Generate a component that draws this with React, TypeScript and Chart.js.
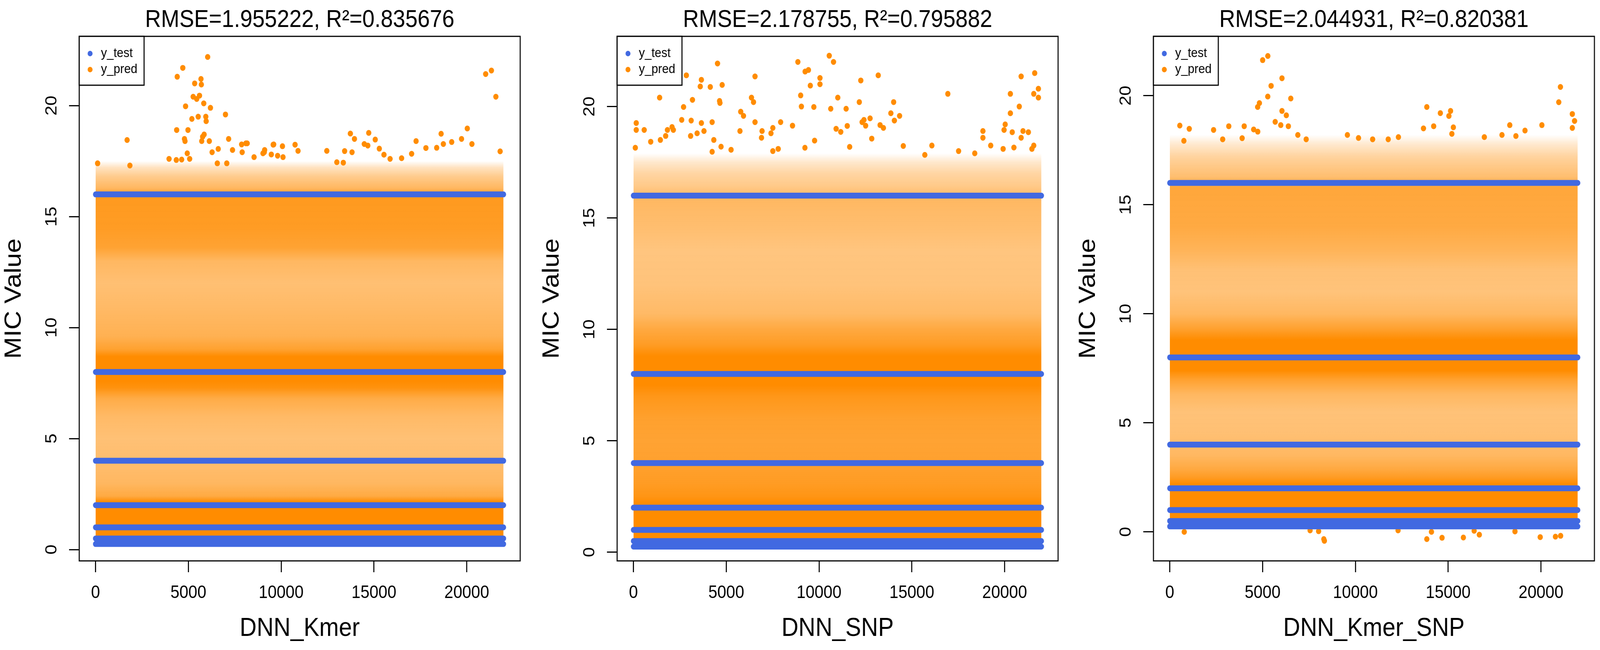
import React, { useEffect, useRef } from 'react';
import { Chart, registerables } from 'chart.js';

Chart.register(...registerables);

const FONT = "'Liberation Sans', Arial, Helvetica, sans-serif";
Chart.defaults.font.family = FONT;

const BLUE = 'rgb(65,105,225)';
const ORANGE_RGB = '255,140,0';
const ORANGE = `rgb(${ORANGE_RGB})`;

// ---------- data ----------
const MODELS = ['DNN_Kmer', 'DNN_SNP', 'DNN_Kmer_SNP'];
const RMSE = ['1.955222', '2.178755', '2.044931'];
const R2 = ['0.835676', '0.795882', '0.820381'];

const X_TICKS = [0, 5000, 10000, 15000, 20000];
const Y_TICKS = [0, 5, 10, 15, 20];
const X_RANGE = [-880, 22880];
const Y_RANGE_KMER = [-0.51, 23.12];
const Y_RANGE_SNP = [-0.39, 23.15];
const Y_RANGE_KMER_SNP = [-1.33, 22.72];

// sample index span of the test set
const SAMPLE_SPAN = [1, 21980];

// y_test takes only these MIC values
const TEST_LEVELS = [0.25, 0.5, 1, 2, 4, 8, 16];

// y_pred: share of the plot covered by predicted points, read per MIC level
const DENS_Y_KMER = [0.45, 0.6, 2.15, 2.4, 3.0, 4.0, 5.0, 6.0, 6.8, 7.3, 7.6, 8.7, 9.0, 9.6, 10.9, 12.0, 13.0, 13.6, 14.5, 15.9, 16.3, 16.8, 17.2, 17.5];
const DENS_KMER = [0, 1, 1, 0.74, 0.62, 0.57, 0.54, 0.6, 0.72, 0.95, 1, 1, 0.82, 0.68, 0.6, 0.55, 0.62, 0.8, 0.86, 0.88, 0.62, 0.45, 0.25, 0];

const DENS_Y_SNP = [0.45, 0.6, 2.2, 2.5, 3.1, 4.0, 5.0, 6.0, 7.0, 7.5, 8.8, 9.3, 10.0, 10.7, 12.0, 13.5, 14.5, 15.9, 16.4, 17.0, 17.5, 17.9];
const DENS_SNP = [0, 1, 1, 0.92, 0.86, 0.82, 0.8, 0.82, 0.9, 1, 1, 0.86, 0.75, 0.6, 0.52, 0.5, 0.56, 0.62, 0.47, 0.36, 0.2, 0];

const DENS_Y_KMER_SNP = [0.45, 0.6, 2.2, 2.5, 2.9, 3.5, 4.5, 5.5, 6.3, 7.0, 7.4, 8.8, 9.3, 10.0, 11.0, 12.0, 12.9, 14.0, 15.8, 16.3, 17.2, 17.8, 18.2];
const DENS_KMER_SNP = [0, 1, 1, 0.86, 0.74, 0.62, 0.55, 0.53, 0.62, 0.82, 1, 1, 0.82, 0.62, 0.52, 0.54, 0.65, 0.74, 0.77, 0.56, 0.38, 0.18, 0];

// y_pred: individually visible points (sample index, predicted MIC)
const PRED_KMER = [
  [6040, 22.19], [4700, 21.7], [4400, 21.3], [5340, 21.0], [5680, 21.2], [5700, 20.95], [5260, 20.4], [5600, 20.45],
  [5450, 20.3], [5830, 20.1], [6190, 19.9], [4850, 19.97], [7000, 19.6], [5530, 19.5], [5190, 19.4], [5940, 19.5],
  [5960, 19.3], [4370, 18.9], [4980, 18.9], [5850, 18.7], [5770, 18.6], [4790, 18.5], [4820, 18.4], [5720, 18.4],
  [6130, 18.4], [7170, 18.5], [1700, 18.45], [6610, 18.05], [6280, 17.9], [7380, 18.0], [7870, 18.25], [8100, 18.3],
  [9600, 18.25], [7900, 17.9], [110, 17.4], [1850, 17.3], [3960, 17.6], [4350, 17.55], [4640, 17.57], [5070, 17.6],
  [4940, 17.85], [6560, 17.4], [7070, 17.4], [8540, 17.68], [9020, 17.85], [9110, 18.0],
  [21020, 21.42], [21330, 21.58], [21570, 20.4], [20030, 18.97], [18620, 18.73], [19720, 18.5], [20280, 18.27],
  [19190, 18.36], [18740, 18.27], [18380, 18.1], [17270, 18.4], [17800, 18.09], [17030, 17.83], [16490, 17.63],
  [21800, 17.94], [14720, 18.77], [15070, 18.47], [13730, 18.74], [13950, 18.5], [14480, 18.27], [14670, 18.2],
  [15290, 18.06], [13420, 17.95], [13820, 17.9], [12460, 17.96], [15870, 17.6], [15540, 17.79], [9570, 18.24],
  [10070, 18.17], [10750, 18.24], [10910, 17.96], [8170, 18.3], [9090, 17.9], [9470, 17.8], [9810, 17.74],
  [10100, 17.68], [13000, 17.45], [13350, 17.43],
];

const PRED_SNP = [
  [10550, 22.28], [10780, 22.0], [8860, 22.0], [4530, 21.93], [9430, 21.64], [9250, 21.57], [13190, 21.4], [6550, 21.35],
  [2850, 21.4], [20890, 21.35], [21620, 21.5], [3660, 21.2], [3600, 20.9], [4140, 20.88], [4780, 20.97], [10050, 21.28],
  [10050, 21.0], [9530, 20.94], [12250, 21.17], [21820, 20.8], [16940, 20.57], [21570, 20.57], [21820, 20.4], [1410, 20.4],
  [2700, 19.98], [3180, 20.3], [4640, 20.25], [4660, 20.16], [6360, 20.4], [6470, 20.2], [9010, 20.5], [9050, 20.0],
  [11010, 20.4], [12170, 20.2], [14020, 20.2], [20310, 20.57], [20790, 20.0], [9720, 19.98], [10630, 19.9], [11460, 19.9],
  [5780, 19.77], [5930, 19.58], [13870, 19.7], [14340, 19.58], [14060, 19.37], [20310, 19.7], [150, 19.26], [580, 18.95],
  [150, 18.95], [2600, 19.4], [3110, 19.37], [3660, 19.26], [4240, 19.3], [6550, 19.3], [7930, 19.3], [8570, 19.14],
  [12320, 19.3], [12510, 19.14], [12420, 19.4], [12750, 19.47], [13290, 19.17], [13470, 19.04], [20030, 19.2], [2080, 19.08],
  [1830, 18.95], [1450, 18.5], [18830, 18.9], [20990, 18.9], [21280, 18.85], [100, 18.15], [930, 18.42], [1735, 18.68],
  [2150, 18.95], [3080, 18.68], [3430, 18.8], [3800, 18.9], [4330, 18.5], [4240, 17.97], [4720, 18.2], [5260, 18.06],
  [5740, 18.9], [6930, 18.9], [7510, 19.04], [7410, 18.8], [6900, 18.6], [7510, 18.0], [7800, 18.1], [9760, 18.47],
  [9240, 18.15], [10920, 19.0], [11170, 18.86], [11650, 18.19], [11520, 19.13], [12840, 18.56], [14540, 18.23],
  [16080, 18.25], [15700, 17.83], [17520, 18.0], [18830, 18.6], [19250, 18.25], [19970, 18.95], [20410, 18.85],
  [20890, 18.6], [21570, 18.25], [21470, 18.1], [20500, 18.16], [19920, 18.1], [18390, 17.9],
];

const PRED_KMER_SNP = [
  [5005, 21.63], [5283, 21.82], [6045, 20.8], [5460, 20.45], [5280, 19.96], [6520, 19.87], [4830, 19.66], [4735, 19.48],
  [6045, 19.3], [6280, 19.1], [5680, 18.8], [5980, 18.65], [6390, 18.6], [21050, 20.4], [20960, 19.7], [13850, 19.48],
  [14580, 19.2], [15130, 19.3], [15040, 19.07], [21690, 19.16], [21810, 18.84], [21690, 18.52], [540, 18.63], [1050, 18.48],
  [760, 17.93], [2360, 18.43], [3180, 18.6], [4010, 18.6], [4520, 18.45], [4740, 18.35], [13670, 18.5], [14220, 18.6],
  [15280, 18.55], [15200, 18.25], [18320, 18.65], [19140, 18.4], [20050, 18.65], [9570, 18.2], [10170, 18.06],
  [10930, 18.0], [11770, 18.0], [12320, 18.1], [16950, 18.1], [17900, 18.2], [18650, 18.15], [6900, 18.2], [7350, 18.0],
  [2850, 18.0], [3900, 18.05],
  [8330, -0.41], [8300, -0.33], [780, 0.0], [13850, -0.33], [14670, -0.27], [15820, -0.26], [16680, -0.13],
  [19960, -0.24], [20780, -0.22], [21060, -0.18], [8020, 0.03], [12300, 0.07], [7560, 0.07], [14100, 0.0],
  [16400, 0.05], [18600, 0.02],
];

const PANELS = [
  { yRange: Y_RANGE_KMER, densY: DENS_Y_KMER, dens: DENS_KMER, pred: PRED_KMER },
  { yRange: Y_RANGE_SNP, densY: DENS_Y_SNP, dens: DENS_SNP, pred: PRED_SNP },
  { yRange: Y_RANGE_KMER_SNP, densY: DENS_Y_KMER_SNP, dens: DENS_KMER_SNP, pred: PRED_KMER_SNP },
];

// ---------- layout (in reference pixels) ----------
const PAGE_W = 4564;
const PAGE_H = 1663;
const CANVAS_W = 1500;
const PANEL_LEFT = [0, 1534, 3064];
const Y_AXIS_W = 226;
const X_AXIS_H = 228;
const RIGHT_PAD = 16;
const POINT_R = 7.5;

function densityFill(ys: number[], cov: number[]) {
  return (ctx: any) => {
    const chart = ctx.chart;
    const sc = chart && chart.scales ? chart.scales.y : null;
    if (!chart || !chart.chartArea || !sc) return `rgba(${ORANGE_RGB},0.5)`;
    const lo = ys[0];
    const hi = ys[ys.length - 1];
    const g = chart.ctx.createLinearGradient(0, sc.getPixelForValue(lo), 0, sc.getPixelForValue(hi));
    ys.forEach((v, i) => g.addColorStop((v - lo) / (hi - lo), `rgba(${ORANGE_RGB},${cov[i]})`));
    return g;
  };
}

// R-style plot frame and boxed legend
const frameLegendPlugin = {
  id: 'frameLegend',
  afterDraw(chart: any) {
    const { ctx, chartArea: a } = chart;
    ctx.save();
    ctx.strokeStyle = '#000';
    ctx.lineWidth = 3;
    ctx.strokeRect(a.left, a.top, a.right - a.left, a.bottom - a.top);
    const items: { label: string; color: string }[] = [];
    chart.data.datasets.forEach((d: any) => {
      if (d.legendColor && !items.find((it) => it.label === d.label)) items.push({ label: d.label, color: d.legendColor });
    });
    const w = 185;
    const h = 125;
    ctx.fillStyle = '#fff';
    ctx.fillRect(a.left, a.top, w, h);
    ctx.strokeRect(a.left, a.top, w, h);
    ctx.font = `34px ${FONT}`;
    ctx.textBaseline = 'middle';
    ctx.textAlign = 'left';
    items.forEach((it, i) => {
      const cy = a.top + 44 + i * 41;
      ctx.fillStyle = it.color;
      ctx.beginPath();
      ctx.arc(a.left + 31, cy, 7, 0, Math.PI * 2);
      ctx.fill();
      ctx.fillStyle = '#000';
      ctx.fillText(it.label, a.left + 62, cy);
    });
    ctx.restore();
  },
};

function Panel({ index, sx }: { index: number; sx: number }) {
  const ref = useRef<HTMLCanvasElement | null>(null);
  useEffect(() => {
    const p = PANELS[index];
    const canvas = ref.current;
    if (!canvas) return;
    const testLines: any[] = [];
    TEST_LEVELS.forEach((lv) => {
      testLines.push({ x: SAMPLE_SPAN[0], y: lv }, { x: SAMPLE_SPAN[1], y: lv }, { x: SAMPLE_SPAN[1], y: null });
    });
    const densTop = p.densY[p.densY.length - 1];
    const densBottom = p.densY[0];
    const chart = new Chart(canvas, {
      type: 'scatter',
      data: {
        datasets: [
          {
            label: 'y_test', legendColor: BLUE, data: testLines, showLine: true, spanGaps: false,
            borderColor: BLUE, borderWidth: POINT_R * 2, borderCapStyle: 'round', pointRadius: 0, fill: false, order: 0,
          } as any,
          {
            label: 'y_pred', legendColor: ORANGE, data: p.pred.map(([x, y]) => ({ x, y })), showLine: false,
            pointRadius: POINT_R, pointBorderWidth: 0, pointBackgroundColor: ORANGE, pointBorderColor: ORANGE, order: 1,
          } as any,
          {
            label: 'y_pred',
            data: [{ x: SAMPLE_SPAN[0], y: densTop }, { x: SAMPLE_SPAN[1], y: densTop }],
            showLine: true, borderWidth: 0, borderColor: 'rgba(0,0,0,0)', pointRadius: 0,
            fill: { value: densBottom }, backgroundColor: densityFill(p.densY, p.dens), order: 2,
          } as any,
        ],
      },
      options: {
        animation: false,
        responsive: false,
        devicePixelRatio: 1,
        events: [],
        layout: { padding: { left: 0, right: RIGHT_PAD, top: 0, bottom: 0 } },
        plugins: {
          legend: { display: false },
          tooltip: { enabled: false },
          title: {
            display: true, fullSize: false,
            text: `RMSE=${RMSE[index]}, R\u00B2=${R2[index]}`,
            color: '#000',
            font: { size: 63, weight: 'normal', family: FONT, lineHeight: 1.1 },
            padding: { top: 17, bottom: 6.7 },
          },
        },
        scales: {
          x: {
            type: 'linear', position: 'bottom', min: X_RANGE[0], max: X_RANGE[1],
            afterBuildTicks: (s: any) => { s.ticks = X_TICKS.map((v) => ({ value: v })); },
            afterFit: (s: any) => { s.height = X_AXIS_H; },
            grid: { display: true, drawOnChartArea: false, drawTicks: true, tickLength: 29, lineWidth: 3, color: '#000', tickColor: '#000' },
            border: { display: false },
            ticks: { color: '#000', font: { size: 46, family: FONT }, padding: 26, autoSkip: false, maxRotation: 0, minRotation: 0, callback: (v: any) => String(v) },
            title: { display: true, text: MODELS[index], color: '#000', font: { size: 67, family: FONT, lineHeight: 1.1 }, padding: { top: 0, bottom: 18 } },
          },
          y: {
            type: 'linear', position: 'left', min: p.yRange[0], max: p.yRange[1],
            afterBuildTicks: (s: any) => { s.ticks = Y_TICKS.map((v) => ({ value: v })); },
            afterFit: (s: any) => { s.width = Y_AXIS_W; },
            grid: { display: true, drawOnChartArea: false, drawTicks: true, tickLength: 29, lineWidth: 3, color: '#000', tickColor: '#000' },
            border: { display: false },
            ticks: { color: '#000', font: { size: 46, family: FONT }, padding: 23, minRotation: 90, maxRotation: 90, crossAlign: 'center', autoSkip: false, callback: (v: any) => String(v) },
            title: { display: true, text: 'MIC Value', color: '#000', font: { size: 67, family: FONT, lineHeight: 1.1 }, padding: { top: 4, bottom: 0 } },
          },
        },
      } as any,
      plugins: [frameLegendPlugin],
    });
    return () => chart.destroy();
  }, [index]);
  return (
    <canvas
      ref={ref}
      width={CANVAS_W}
      height={PAGE_H}
      style={{
        position: 'absolute',
        left: PANEL_LEFT[index] * sx,
        top: 0,
        width: CANVAS_W * sx,
        height: PAGE_H,
        display: 'block',
      }}
    />
  );
}

export default function App() {
  // the browser window may be narrower than the 4564 px reference; map the reference width onto it
  const vw = typeof window !== 'undefined' && window.innerWidth ? window.innerWidth : PAGE_W;
  const sx = Math.min(1, vw / PAGE_W);
  return (
    <div
      style={{
        position: 'absolute',
        left: 0,
        top: 0,
        width: PAGE_W * sx,
        height: PAGE_H,
        overflow: 'hidden',
        background: '#fff',
      }}
    >
      {MODELS.map((m, i) => (
        <Panel key={m} index={i} sx={sx} />
      ))}
    </div>
  );
}
